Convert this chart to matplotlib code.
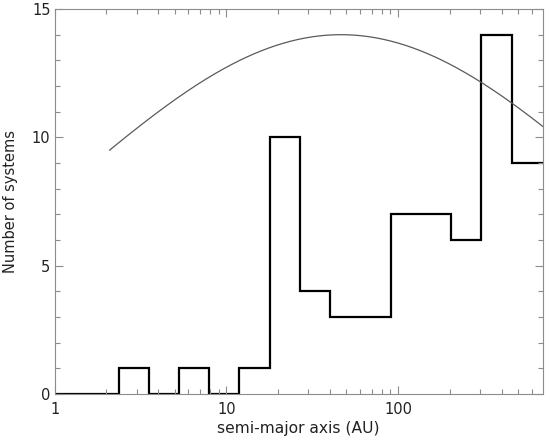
"""Histogram of binary semi-major axes with a log-normal model curve."""
import numpy as np
import matplotlib
matplotlib.use("Agg")
import matplotlib.pyplot as plt
from matplotlib.ticker import FixedLocator, NullFormatter

# bin edges (AU) (log-spaced, ~0.176 dex)
bin_edges = [1.0, 1.57, 2.36, 3.54, 5.31, 7.96, 11.9, 17.9, 26.8, 40.2,
             60.3, 90.5, 136.0, 204.0, 305.0, 458.0, 760.0]
counts = [0, 0, 1, 0, 1, 0, 1, 10, 4, 3, 3, 7, 7, 6, 14, 9]

# log-normal model overplotted (peak height, centre in log a, width in dex)
model_peak = 14.0
model_log_centre = 1.667
model_log_sigma = 1.53
model_range = (2.09, 760.0)

x_ticks = [1, 10, 100]
x_tick_labels = ["1", "10", "100"]
y_ticks = [0, 5, 10, 15]

axis_grey = "#8c8c8c"
text_col = "#222222"

plt.rcParams["font.family"] = ["DejaVu Sans"]

fig = plt.figure(figsize=(5.5, 4.42), dpi=100)
ax = fig.add_axes([0.0993, 0.1086, 0.8877, 0.871])

ax.stairs(counts, bin_edges, baseline=None, color="black", linewidth=1.6)

la = np.linspace(np.log10(model_range[0]), np.log10(model_range[1]), 300)
model = model_peak * np.exp(-0.5 * ((la - model_log_centre) / model_log_sigma) ** 2)
ax.plot(10 ** la, model, color="#5a5a5a", linewidth=0.9)

ax.set_xscale("log")
ax.set_xlim(1, 695)
ax.set_ylim(0, 15)

ax.xaxis.set_major_locator(FixedLocator(x_ticks))
ax.set_xticklabels(x_tick_labels)
minor_x = [m * d for d in (1, 10, 100) for m in range(2, 10) if m * d < 700]
ax.xaxis.set_minor_locator(FixedLocator(minor_x))
ax.xaxis.set_minor_formatter(NullFormatter())
ax.set_yticks(y_ticks)
ax.yaxis.set_minor_locator(FixedLocator(range(0, 16)))

ax.tick_params(which="both", direction="in", top=True, right=True,
               color=axis_grey, labelcolor=text_col, labelsize=10.5, width=0.8)
ax.tick_params(which="major", length=6)
ax.tick_params(which="minor", length=3.5)
ax.tick_params(axis="x", which="major", pad=6)
ax.tick_params(axis="y", which="major", pad=3)
for s in ax.spines.values():
    s.set_color(axis_grey)
    s.set_linewidth(0.8)

ax.set_xlabel("semi-major axis (AU)", fontsize=11.2, color=text_col, labelpad=3)
ax.set_ylabel("Number of systems", fontsize=10.5, color=text_col, labelpad=10)

fig.savefig("out.png", dpi=100)
